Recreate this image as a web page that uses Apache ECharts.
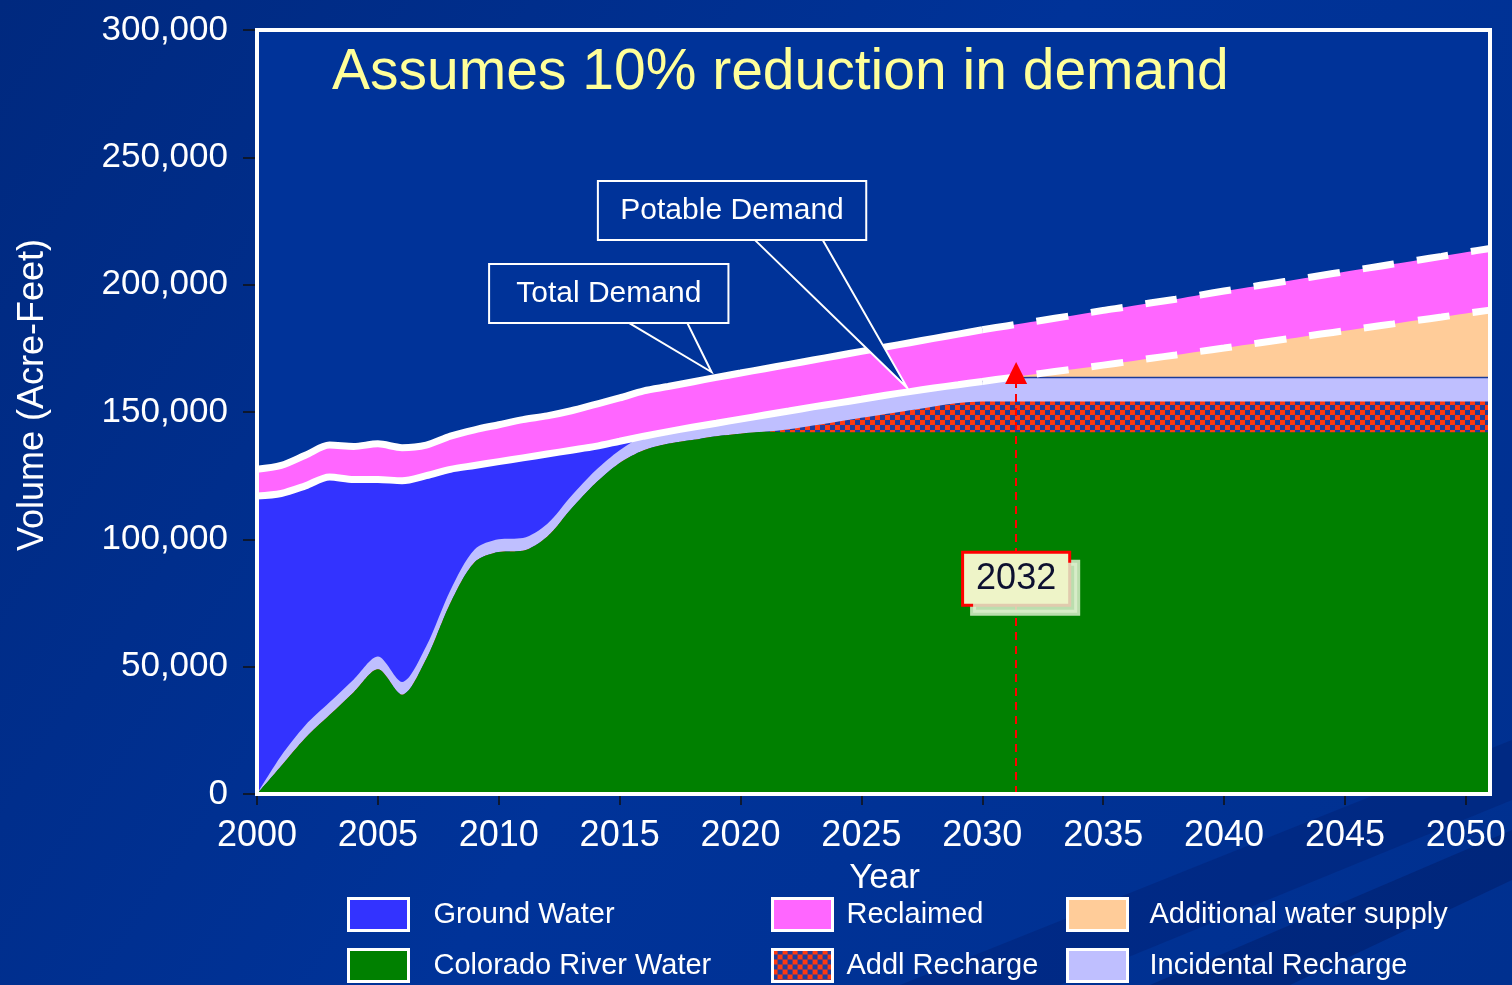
<!DOCTYPE html>
<html><head><meta charset="utf-8">
<script src="https://cdn.jsdelivr.net/npm/echarts@6/dist/echarts.min.js"></script>
<style>html,body{margin:0;padding:0;background:#003399;overflow:hidden}#c{width:1512px;height:985px}</style>
</head><body><div id="c"></div>
<script>
// ---- data (values in thousand acre-feet), one value per year 2000..2051 ----
const years = [];
for (let y = 2000; y <= 2051; y++) years.push(y);

const coloradoRiver = [0,11,22,31,40,49,39,53,75,91,95,95.5,101,112,122,130,135,137.5,139,140.5,141.5,142.2,
  142,142,142,142,142,142,142,142,142,142,142,142,142,142,142,142,142,142,142,142,142,142,142,142,142,142,142,142,142,142];
const addlRecharge = [0,0,0,0,0,0,0,0,0,0,0,0,0,0,0,0,0,0,0,0,0,0,
  1.2,2.7,4.2,5.7,7.2,8.7,10.2,11.5,12.1,
  12.1,12.1,12.1,12.1,12.1,12.1,12.1,12.1,12.1,12.1,12.1,12.1,12.1,12.1,12.1,12.1,12.1,12.1,12.1,12.1,12.1];
const incidentalRecharge = [0,4,5,5,5,5,5,5,5,5,5,5,5,5,5,5,5.5,4.8,5,5.1,5.7,6.6,
  7.2,7.3,7.3,7.3,7.4,7.3,7.2,7.2,7.9,9.2,
  9.4,9.4,9.4,9.4,9.4,9.4,9.4,9.4,9.4,9.4,9.4,9.4,9.4,9.4,9.4,9.4,9.4,9.4,9.4,9.4];
const groundWater = [117,103,94,88.5,78.5,69.5,79,67,47.5,33,30.5,31.5,27.5,18,9.5,3.5,
  0,0,0,0,0,0,0,0,0,0,0,0,0,0,0,0,0,0,0,0,0,0,0,0,0,0,0,0,0,0,0,0,0,0,0,0];
const additionalSupply = [0,0,0,0,0,0,0,0,0,0,0,0,0,0,0,0,0,0,0,0,0,0,0,0,0,0,0,0,0,0,0,0,
  1.1,2.4,3.6,4.9,6.2,7.6,8.9,10.3,11.6,13,14.4,15.7,17.1,18.4,19.8,21.1,22.5,23.8,25.2,26.5];
const reclaimed = [10.5,11,12,12.5,13,14,13,12,13,14,14.5,15,15,15.5,16.5,17,17.8,17.7,17.8,18,18.1,18.2,
  18.3,18.4,18.6,18.8,18.9,19.2,19.5,19.9,20.3,20.5,20.7,20.9,21.2,21.5,21.6,21.8,21.9,22.1,22.4,
  22.5,22.6,22.8,23.0,23.2,23.3,23.5,23.6,23.8,24.0,24.2];

const xTickValues = [2000,2005,2010,2015,2020,2025,2030,2035,2040,2045,2050];
const yTickLabels = ['0','50,000','100,000','150,000','200,000','250,000','300,000'];

const markerYear = 2031.4, markerTop = 165.3, markerLabel = '2032', markerLabelY = 84.5;
const dashStartYear = 2030;

const callouts = [
  {text:'Total Demand',   box:[2009.6,208.1,2019.5,184.9], base:[2015.4,2017.8], tip:[2018.8,165.7]},
  {text:'Potable Demand', box:[2014.1,240.7,2025.2,217.5], base:[2020.6,2023.4], tip:[2026.9,159.4]}
];

const FONT = "'Liberation Sans',Arial,sans-serif";

// checker pattern for Addl Recharge
const pc = document.createElement('canvas'); pc.width = 10; pc.height = 10;
const g = pc.getContext('2d');
g.fillStyle = '#213d99'; g.fillRect(0,0,10,10);
g.fillStyle = '#ff3a10'; g.fillRect(0,0,5,5); g.fillRect(5,5,5,5);
const checker = {image: pc, repeat: 'repeat'};

const colors = {
  'Colorado River Water':'#008000',
  'Addl Recharge': checker,
  'Incidental Recharge':'#bfbfff',
  'Ground Water':'#3333ff',
  'Additional water supply':'#ffcc99',
  'Reclaimed':'#ff66ff'
};
// stacking order, bottom to top
const stackDefs = [
  ['Colorado River Water', coloradoRiver],
  ['Addl Recharge', addlRecharge],
  ['Incidental Recharge', incidentalRecharge],
  ['Ground Water', groundWater],
  ['Additional water supply', additionalSupply],
  ['Reclaimed', reclaimed]
];
// cumulative tops of the stack (each layer drawn from the axis, upper layers first)
const tops = [];
stackDefs.forEach(([name, arr], k) => {
  tops.push(arr.map((v, i) => (k ? tops[k-1][i] : 0) + v));
});
const potable = tops[4];
const total = tops[5];

const SM = 0.3;
const series = [];
for (let k = stackDefs.length - 1; k >= 0; k--) {
  const name = stackDefs[k][0];
  series.push({
    name, type:'line', smooth: SM, symbol:'none',
    data: years.map((y,i)=>[y, tops[k][i]]),
    areaStyle: {color: colors[name], opacity: 1},
    lineStyle: name === 'Ground Water' ? {width: 1.5, color:'#1a3a9a'} : {width: 0},
    itemStyle: {color: colors[name]},
    z: 2
  });
}
function demandLine(name, arr, dashed) {
  const d = [];
  years.forEach((y,i)=>{ if (dashed ? y >= dashStartYear : y <= dashStartYear) d.push([y, arr[i]]); });
  return {name, type:'line', smooth: SM, symbol:'none', data:d, z:3,
    lineStyle:{color:'#ffffff', width:7, type: dashed ? [32,23] : 'solid', cap:'butt'}};
}
series.push(demandLine('Total Demand', total, false));
series.push(demandLine('Total Demand dashed', total, true));
series.push(demandLine('Potable Demand', potable, false));
series.push(demandLine('Potable Demand dashed', potable, true));
series.push({
  name:'marker', type:'line', data:[], z:5,
  markLine:{silent:true, symbol:['none','triangle'], symbolSize:22,
    lineStyle:{color:'#ff0000', width:2, type:[8,6]}, label:{show:false},
    itemStyle:{color:'#ff0000'},
    data:[[{coord:[markerYear,0]},{coord:[markerYear,markerTop]}]]},
  markPoint:{silent:true, symbol:'rect', symbolSize:1, itemStyle:{color:'rgba(0,0,0,0)'},
    data:[{coord:[markerYear, markerLabelY]}],
    label:{show:true, position:'inside', formatter: markerLabel, fontSize:36, fontFamily:FONT,
      color:'#0d1030', backgroundColor:'#eef4c8', borderColor:'#ff0000', borderWidth:3,
      padding:[8,12,6,12], shadowColor:'rgba(220,238,205,0.85)', shadowOffsetX:9, shadowOffsetY:9, shadowBlur:0}}
});

const legendPos = [
  ['Ground Water',347,897,20],['Reclaimed',771,897,9],['Additional water supply',1066,897,17],
  ['Colorado River Water',347,948,20],['Addl Recharge',771,948,9],['Incidental Recharge',1066,948,17]
];
const legends = legendPos.map(([name,l,t,gap])=>({
  left:l, top:t, padding:0, itemWidth:60, itemHeight:32, icon:'rect', selectedMode:false,
  data:[{name, itemStyle:{color:colors[name], borderColor:'#ffffff', borderWidth:3}}],
  textStyle:{color:'#ffffff', fontSize:29, fontFamily:FONT, padding:[0,0,0,gap]}
}));

const chart = echarts.init(document.getElementById('c'), null, {renderer:'canvas'});
const option = {
  animation:false,
  backgroundColor:{type:'linear',x:0,y:0,x2:1,y2:1,colorStops:[{offset:0,color:'#00297f'},{offset:0.5,color:'#003399'},{offset:1,color:'#00308f'}]},
  title:{text:'Assumes 10% reduction in demand', left:327, top:40,
    textStyle:{color:'#ffff99', fontSize:57, fontWeight:'normal', fontFamily:FONT}},
  grid:{left:257, right:22, top:30, bottom:191, show:true, backgroundColor:'#003399', borderWidth:0, outerBoundsMode:'none', containLabel:false},
  legend: legends,
  xAxis:{type:'value', min:2000, max:2051, interval:5,
    name:'Year', nameLocation:'middle', nameGap:67,
    nameTextStyle:{color:'#ffffff', fontSize:35, fontFamily:FONT, padding:[0,0,0,22]},
    axisLine:{show:false}, splitLine:{show:false},
    axisTick:{show:true, length:11, lineStyle:{color:'#111', width:1.5}, customValues:xTickValues},
    axisLabel:{color:'#ffffff', fontSize:36, fontFamily:FONT, margin:24, customValues:xTickValues,
      formatter:v=>String(v)}},
  yAxis:{type:'value', min:0, max:300, interval:50,
    name:'Volume (Acre-Feet)', nameLocation:'middle', nameGap:206, nameRotate:90,
    nameTextStyle:{color:'#ffffff', fontSize:36, fontFamily:FONT, padding:[0,0,0,34]},
    axisLine:{show:false}, splitLine:{show:false},
    axisTick:{show:true, length:14, lineStyle:{color:'#111', width:1.5}},
    axisLabel:{color:'#ffffff', fontSize:35, fontFamily:FONT, margin:29,
      formatter:v=>yTickLabels[Math.round(v/50)]}},
  series
};
chart.setOption(option);

// annotations positioned through the chart's own coordinate conversion
const P = p => chart.convertToPixel({gridIndex:0}, p);
const gfx = [];
gfx.push({type:'polygon', silent:true, z:-10, shape:{points:[[900,985],[1512,740],[1512,800],[1060,985]]}, style:{fill:'rgba(0,20,90,0.25)'}});
gfx.push({type:'polygon', silent:true, z:-10, shape:{points:[[1150,985],[1512,830],[1512,880],[1290,985]]}, style:{fill:'rgba(0,15,80,0.3)'}});
callouts.forEach(c=>{
  const a = P([c.box[0], c.box[1]]), b = P([c.box[2], c.box[3]]);
  const b1 = P([c.base[0], c.box[3]]), b2 = P([c.base[1], c.box[3]]), tp = P(c.tip);
  gfx.push({type:'polygon', silent:true, z:20, shape:{points:[b1,tp,b2]}, style:{fill:'#003399', stroke:'#ffffff', lineWidth:2}});
  gfx.push({type:'rect', silent:true, z:21, shape:{x:a[0], y:a[1], width:b[0]-a[0], height:b[1]-a[1]}, style:{fill:'#003399', stroke:'#ffffff', lineWidth:2}});
  gfx.push({type:'text', silent:true, z:22, x:(a[0]+b[0])/2, y:(a[1]+b[1])/2,
    style:{text:c.text, fill:'#ffffff', font:'30px '+FONT, align:'center', verticalAlign:'middle'}});
});
const tl = P([2000,300]), br = P([2051,0]);
gfx.push({type:'rect', silent:true, z:30, shape:{x:tl[0], y:tl[1], width:br[0]-tl[0], height:br[1]-tl[1]}, style:{fill:'none', stroke:'#ffffff', lineWidth:4}});
chart.setOption({graphic:{elements:gfx}});
</script></body></html>
